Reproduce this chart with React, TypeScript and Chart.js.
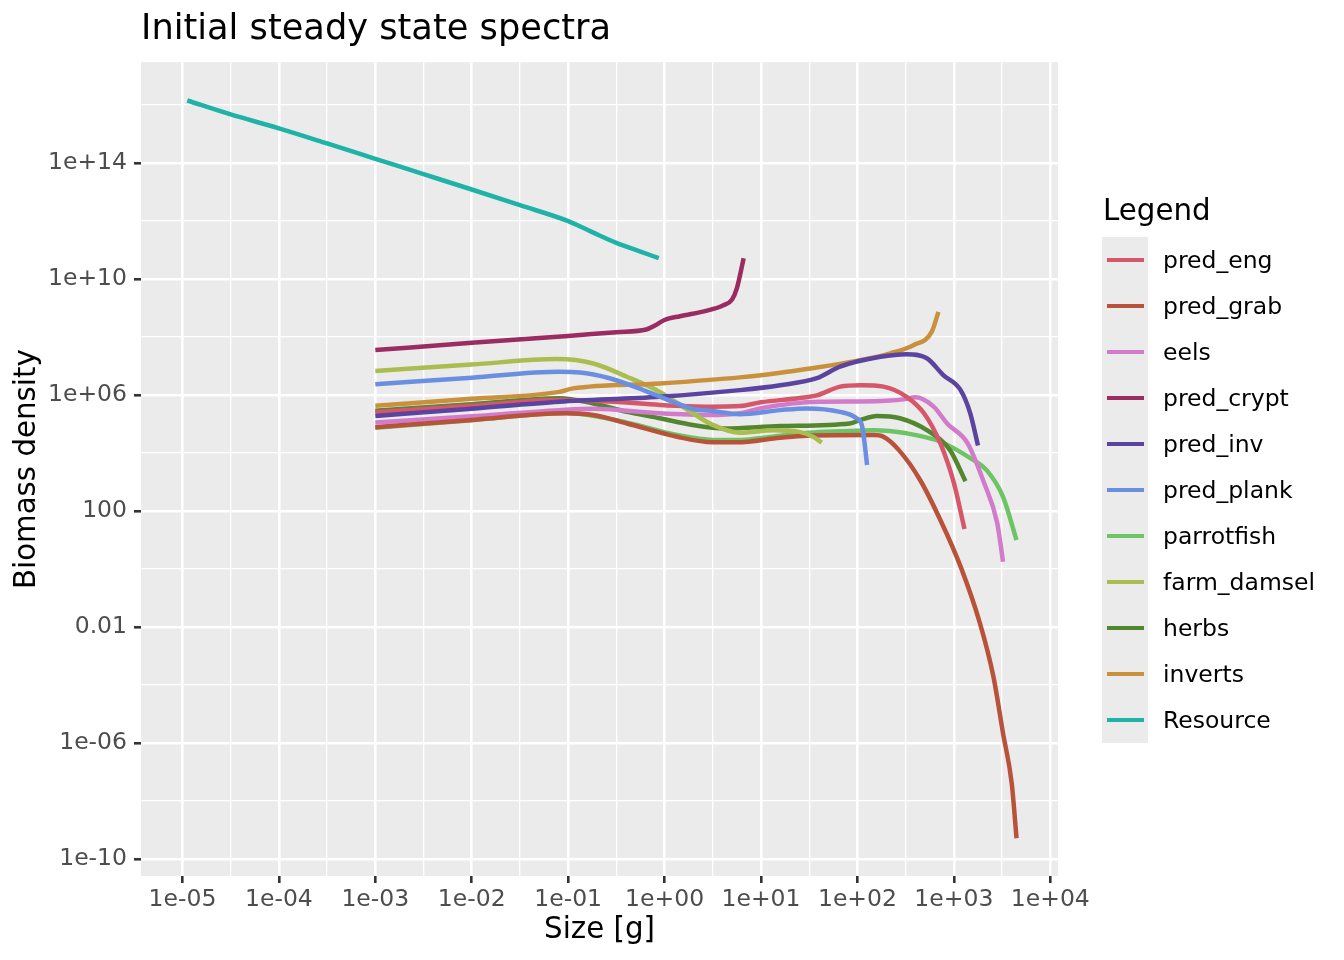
import { useEffect, useRef } from "react";
import { Chart, registerables } from "chart.js";
import type { ChartConfiguration, Plugin } from "chart.js";

Chart.register(...registerables);

// log10(size [g]) and log10(biomass density)
const predEngW = [-3, -2, -1.09, -0.53, -0.05, 0.47, 0.78, 1.0, 1.4, 1.58, 1.82, 2.03, 2.27, 2.51, 2.69, 2.86, 3.0, 3.11];
const predEngN = [5.41, 5.63, 5.83, 5.77, 5.66, 5.6, 5.62, 5.75, 5.9, 5.99, 6.29, 6.34, 6.29, 5.94, 5.37, 4.33, 2.97, 1.38];

const predGrabW = [-3, -2, -1.02, -0.74, -0.39, 0.13, 0.5, 0.75, 1.2, 1.47, 2.17, 2.27, 2.43, 2.65, 2.86, 3.07, 3.27, 3.41, 3.51, 3.6, 3.65];
const predGrabN = [4.89, 5.14, 5.37, 5.31, 5.02, 4.56, 4.37, 4.37, 4.53, 4.6, 4.62, 4.56, 4.1, 3.07, 1.69, 0.08, -1.87, -3.71, -5.67, -7.39, -9.29];

const eelsW = [-3, -2, -1.09, -0.74, -0.05, 0.47, 0.78, 1.0, 1.6, 1.99, 2.3, 2.5, 2.6, 2.79, 2.93, 3.14, 3.31, 3.45, 3.51];
const eelsN = [5.05, 5.27, 5.48, 5.53, 5.37, 5.31, 5.37, 5.55, 5.77, 5.78, 5.8, 5.86, 5.92, 5.6, 5.02, 4.35, 3.0, 1.58, 0.25];

const predCryptW = [-3, -2, -1, -0.5, -0.19, -0.1, 0, 0.16, 0.44, 0.61, 0.7, 0.75, 0.82];
const predCryptN = [7.55, 7.8, 8.04, 8.17, 8.26, 8.4, 8.59, 8.72, 8.91, 9.1, 9.3, 9.69, 10.72];

const predInvW = [-3, -2, -1.09, -0.05, 0.78, 1.2, 1.58, 1.82, 2.24, 2.51, 2.72, 2.89, 3.07, 3.17, 3.25];
const predInvN = [5.28, 5.53, 5.77, 5.94, 6.17, 6.34, 6.58, 6.98, 7.32, 7.41, 7.27, 6.69, 6.17, 5.37, 4.26];

const predPlankW = [-3, -2, -1.09, -0.88, -0.57, -0.22, 0.13, 0.3, 0.47, 0.78, 1.2, 1.47, 1.82, 1.99, 2.05, 2.1];
const predPlankN = [6.37, 6.6, 6.8, 6.78, 6.58, 6.17, 5.71, 5.51, 5.46, 5.34, 5.48, 5.54, 5.42, 5.2, 4.91, 3.59];

const parrotfishW = [-3, -2, -1.02, -0.39, 0.13, 0.5, 0.75, 1.2, 1.5, 1.82, 2.17, 2.51, 2.86, 3.2, 3.34, 3.51, 3.65];
const parrotfishN = [4.87, 5.13, 5.38, 5.05, 4.62, 4.45, 4.45, 4.6, 4.7, 4.75, 4.79, 4.68, 4.39, 3.76, 3.41, 2.49, 1.0];

const farmDamselW = [-3, -2, -1.12, -0.74, -0.39, -0.05, 0.29, 0.5, 0.78, 1.13, 1.4, 1.54, 1.63];
const farmDamselN = [6.83, 7.05, 7.24, 7.09, 6.63, 6.11, 5.38, 4.97, 4.7, 4.79, 4.73, 4.56, 4.36];

const herbsW = [-3, -2, -1.09, -0.74, -0.39, -0.05, 0.29, 0.63, 1.2, 1.92, 2.03, 2.2, 2.44, 2.72, 2.96, 3.12];
const herbsN = [5.46, 5.68, 5.89, 5.71, 5.42, 5.2, 4.97, 4.85, 4.93, 5.02, 5.14, 5.28, 5.2, 4.79, 4.1, 3.03];

const invertsW = [-3, -2, -1.09, -0.95, -0.05, 0.78, 1.2, 1.47, 1.99, 2.34, 2.58, 2.77, 2.84];
const invertsN = [5.63, 5.87, 6.11, 6.23, 6.4, 6.61, 6.77, 6.9, 7.18, 7.44, 7.72, 8.18, 8.87];

const resourceW = [-4.95, -4.5, -4, -3.5, -3, -2.5, -2, -1.5, -1, -0.75, -0.5, -0.25, -0.06];
const resourceN = [16.16, 15.68, 15.2, 14.68, 14.15, 13.62, 13.09, 12.55, 12.0, 11.62, 11.25, 10.95, 10.72];

// legend order
const speciesNames = ["pred_eng", "pred_grab", "eels", "pred_crypt", "pred_inv", "pred_plank", "parrotfish", "farm_damsel", "herbs", "inverts", "Resource"];
const speciesColors = ["#d6566a", "#b9523a", "#d27bca", "#9b2c61", "#5a44a0", "#6a8fe0", "#6cc464", "#a9bd50", "#52862f", "#c9913c", "#1fb3a8"];
const speciesW = [predEngW, predGrabW, eelsW, predCryptW, predInvW, predPlankW, parrotfishW, farmDamselW, herbsW, invertsW, resourceW];
const speciesN = [predEngN, predGrabN, eelsN, predCryptN, predInvN, predPlankN, parrotfishN, farmDamselN, herbsN, invertsN, resourceN];

// chart.js paints the first dataset on top
const drawOrder = ["Resource", "pred_crypt", "pred_plank", "pred_inv", "pred_eng", "inverts", "farm_damsel", "pred_grab", "eels", "herbs", "parrotfish"];

const xGridExp = [-5, -4.5, -4, -3.5, -3, -2.5, -2, -1.5, -1, -0.5, 0, 0.5, 1, 1.5, 2, 2.5, 3, 3.5, 4];
const xMajorExp = [-5, -4, -3, -2, -1, 0, 1, 2, 3, 4];
const xMajorLabels = ["1e-05", "1e-04", "1e-03", "1e-02", "1e-01", "1e+00", "1e+01", "1e+02", "1e+03", "1e+04"];

const yGridExp = [-10, -8, -6, -4, -2, 0, 2, 4, 6, 8, 10, 12, 14, 16];
const yMajorExp = [-10, -6, -2, 2, 6, 10, 14];
const yMajorLabels = ["1e-10", "1e-06", "0.01", "100", "1e+06", "1e+10", "1e+14"];

const FONT = "'DejaVu Sans', sans-serif";

const expOf = (v: number) => Math.round(Math.log10(v) * 2) / 2;

const panelBackground: Plugin = {
  id: "panelBackground",
  beforeDraw(chart) {
    const { ctx, chartArea } = chart;
    ctx.save();
    ctx.fillStyle = "#ebebeb";
    ctx.fillRect(chartArea.left, chartArea.top, chartArea.width, chartArea.height);
    ctx.restore();
  },
};

const gridFor = (majors: number[]) => ({
  color: "#ffffff",
  lineWidth: (c: any) => (c.tick && majors.includes(expOf(c.tick.value)) ? 2.6 : 1.3),
  tickColor: (c: any) => (c.tick && majors.includes(expOf(c.tick.value)) ? "#333333" : "rgba(0,0,0,0)"),
  tickWidth: 2.6,
  tickLength: 7,
});

const App = () => {
  const canvasRef = useRef<HTMLCanvasElement | null>(null);
  const chartRef = useRef<Chart | null>(null);

  useEffect(() => {
    if (!canvasRef.current) return;
    if (chartRef.current) chartRef.current.destroy();

    const datasets = drawOrder.map((name) => {
      const i = speciesNames.indexOf(name);
      return {
        label: name,
        data: speciesW[i].map((w, k) => ({ x: 10 ** w, y: 10 ** speciesN[i][k] })),
        borderColor: speciesColors[i],
        backgroundColor: speciesColors[i],
        borderWidth: 4.5,
        pointRadius: 0,
        fill: false,
        cubicInterpolationMode: "monotone" as const,
      };
    });

    const config: ChartConfiguration<"line"> = {
      type: "line",
      data: { datasets },
      plugins: [panelBackground],
      options: {
        animation: false,
        responsive: true,
        maintainAspectRatio: false,
        events: [],
        layout: { padding: { left: 0, right: 286, top: 0, bottom: 0 } },
        plugins: {
          legend: { display: false },
          tooltip: { enabled: false },
          title: {
            display: true,
            text: "Initial steady state spectra",
            align: "start",
            fullSize: false,
            color: "#000000",
            font: { family: FONT, size: 35.2, weight: "normal" },
            padding: { top: 9, bottom: 11 },
          },
        },
        scales: {
          x: {
            type: "logarithmic",
            min: 10 ** -5.43,
            max: 10 ** 4.08,
            afterBuildTicks: (scale) => {
              scale.ticks = xGridExp.map((e) => ({ value: 10 ** e }));
            },
            afterFit: (scale) => {
              scale.height = 84;
            },
            ticks: {
              autoSkip: false,
              maxRotation: 0,
              padding: 2.5,
              color: "#4d4d4d",
              font: { family: FONT, size: 23.5 },
              callback: (v) => {
                const k = xMajorExp.indexOf(expOf(Number(v)));
                return k >= 0 ? xMajorLabels[k] : "";
              },
            },
            grid: gridFor(xMajorExp),
            border: { display: false },
            title: {
              display: true,
              text: "Size [g]",
              color: "#000000",
              font: { family: FONT, size: 29.3 },
              padding: { top: 0, bottom: 12 },
            },
          },
          y: {
            type: "logarithmic",
            min: 10 ** -10.59,
            max: 10 ** 17.48,
            afterBuildTicks: (scale) => {
              scale.ticks = yGridExp.map((e) => ({ value: 10 ** e }));
            },
            afterFit: (scale) => {
              scale.width = 141;
            },
            ticks: {
              autoSkip: false,
              padding: 7,
              color: "#4d4d4d",
              font: { family: FONT, size: 23.5 },
              callback: (v) => {
                const k = yMajorExp.indexOf(expOf(Number(v)));
                return k >= 0 ? yMajorLabels[k] : "";
              },
            },
            grid: gridFor(yMajorExp),
            border: { display: false },
            title: {
              display: true,
              text: "Biomass density",
              color: "#000000",
              font: { family: FONT, size: 29.3 },
              padding: { top: 10, bottom: 0 },
            },
          },
        },
      },
    };

    chartRef.current = new Chart(canvasRef.current, config);

    return () => {
      if (chartRef.current) {
        chartRef.current.destroy();
        chartRef.current = null;
      }
    };
  }, []);

  return (
    <div style={{ position: "absolute", left: 0, top: 0, width: 1344, height: 960, background: "#ffffff", fontFamily: FONT }}>
      <canvas ref={canvasRef} />
      <div style={{ position: "absolute", left: 1103, top: 196, fontSize: 29.3, lineHeight: 1, color: "#000000" }}>Legend</div>
      <div style={{ position: "absolute", left: 1102, top: 237 }}>
        {speciesNames.map((name, i) => (
          <div key={name} style={{ display: "flex", alignItems: "center", height: 46 }}>
            <div style={{ width: 46, height: 46, background: "#ebebeb", display: "flex", alignItems: "center" }}>
              <div style={{ marginLeft: 5, width: 37, height: 4, background: speciesColors[i] }} />
            </div>
            <div style={{ marginLeft: 15, fontSize: 23.5, color: "#000000", whiteSpace: "nowrap" }}>{name}</div>
          </div>
        ))}
      </div>
    </div>
  );
};

export default App;
